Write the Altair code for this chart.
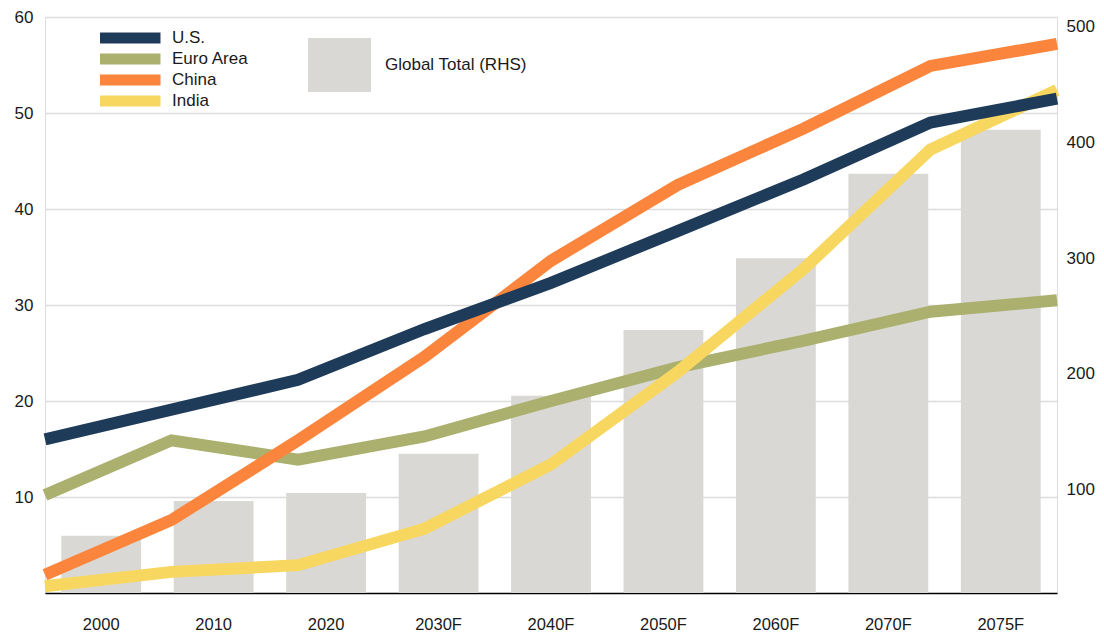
import altair as alt
import pandas as pd

years = ["2000", "2010", "2020", "2030F", "2040F", "2050F", "2060F", "2070F", "2075F"]
us = [16.0, 19.1, 22.2, 27.5, 32.3, 37.7, 43.1, 49.0, 51.5]
euro = [10.2, 15.9, 13.9, 16.3, 20.0, 23.5, 26.3, 29.3, 30.5]
china = [1.9, 7.6, 15.9, 24.6, 34.6, 42.5, 48.4, 54.9, 57.2]
india = [0.7, 2.2, 2.9, 6.7, 13.4, 23.0, 33.8, 46.2, 52.4]
global_total = [60, 90, 97, 131, 181, 238, 300, 373, 411]

series_names = ["U.S.", "Euro Area", "China", "India"]
series_colors = ["#1f3b5a", "#abb06e", "#fb853c", "#f8d760"]
bar_label = "Global Total (RHS)"
bar_color = "#d9d8d4"
left_ticks = [10, 20, 30, 40, 50, 60]
right_ticks = [100, 200, 300, 400, 500]
left_domain = [0, 60]
right_domain = [10.5, 508.6]

FONT = "Liberation Sans, Arial, sans-serif"
TXT = "#1a1a1a"

series_values = {"U.S.": us, "Euro Area": euro, "China": china, "India": india}
line_rows = []
for name in series_names:
    for yr, v in zip(years, series_values[name]):
        line_rows.append({"year": yr, "series": name, "value": v})
line_df = pd.DataFrame(line_rows)

bar_df = pd.DataFrame({
    "year": years,
    "total": global_total,
    "base": [right_domain[0]] * len(years),
    "label": [bar_label] * len(years),
})

bars = alt.Chart(bar_df).mark_bar().encode(
    x=alt.X("year:N", sort=years,
            scale=alt.Scale(paddingInner=0.29, paddingOuter=0.145),
            axis=alt.Axis(title=None, labelAngle=0, ticks=False, tickSize=0,
                          domainColor="#000000", domainWidth=1.5,
                          labelPadding=23, labelBaseline="top",
                          labelFontSize=16.5, labelColor=TXT, labelFont=FONT,
                          grid=False)),
    y=alt.Y("total:Q",
            scale=alt.Scale(domain=right_domain, nice=False, zero=False),
            axis=alt.Axis(orient="right", title=None, values=right_ticks,
                          ticks=False, tickSize=0, domain=False, grid=False,
                          labelPadding=9, labelFontSize=17, labelColor=TXT,
                          labelFont=FONT)),
    y2="base:Q",
    fill=alt.Fill("label:N",
                  scale=alt.Scale(domain=[bar_label], range=[bar_color]),
                  legend=alt.Legend(title=None, orient="none", legendX=263, legendY=16.5,
                                    padding=0,
                                    symbolType="M-1,-0.857H1V0.857H-1Z", symbolSize=3969,
                                    symbolStrokeWidth=0, labelOffset=14,
                                    labelFontSize=17, labelFont=FONT, labelLimit=400,
                                    labelColor=TXT)),
)

x_line = alt.X("year:N", sort=years, scale=alt.Scale(type="point", padding=0), axis=None)
y_line = alt.Y("value:Q", scale=alt.Scale(domain=left_domain, nice=False),
               axis=alt.Axis(orient="left", title=None, values=left_ticks,
                             grid=True, gridColor="#dcdcdc", gridWidth=1.5,
                             ticks=False, tickSize=0, domain=False, labelPadding=12,
                             labelFontSize=17, labelColor=TXT, labelFont=FONT))
color_line = alt.Color("series:N",
                       scale=alt.Scale(domain=series_names, range=series_colors),
                       legend=alt.Legend(title=None, orient="none", legendX=76.75, legendY=12.5,
                                         padding=0,
                                         symbolType="M-5.5,-1H5.5V1H-5.5Z", symbolSize=121,
                                         symbolStrokeWidth=0, symbolOpacity=1,
                                         labelOffset=33.25, rowPadding=3,
                                         labelFontSize=17, labelFont=FONT, labelLimit=300,
                                         labelColor=TXT))

# empty filled layer: only gives the legend filled swatches
legend_key = alt.Chart(line_df).transform_filter("false").mark_square(
    opacity=1, filled=True
).encode(x=x_line, y=y_line, color=color_line)


def line_layer(name):
    return alt.Chart(line_df).transform_filter(
        alt.datum.series == name
    ).mark_line(strokeWidth=12, strokeCap="butt", strokeJoin="miter").encode(
        x=x_line, y=y_line, color=color_line,
    )


lines = alt.layer(
    legend_key,
    line_layer("Euro Area"),
    line_layer("China"),
    line_layer("India"),
    line_layer("U.S."),
)

chart = alt.layer(bars, lines).resolve_scale(
    x="independent", y="independent"
).properties(
    width=1012, height=576,
    autosize=alt.AutoSizeParams(type="none"),
    padding={"left": 37, "top": 9, "right": 39, "bottom": 38},
).configure_view(stroke=None).configure(background="white")

chart.save("out.html", embed_options={"renderer": "svg", "actions": False})
